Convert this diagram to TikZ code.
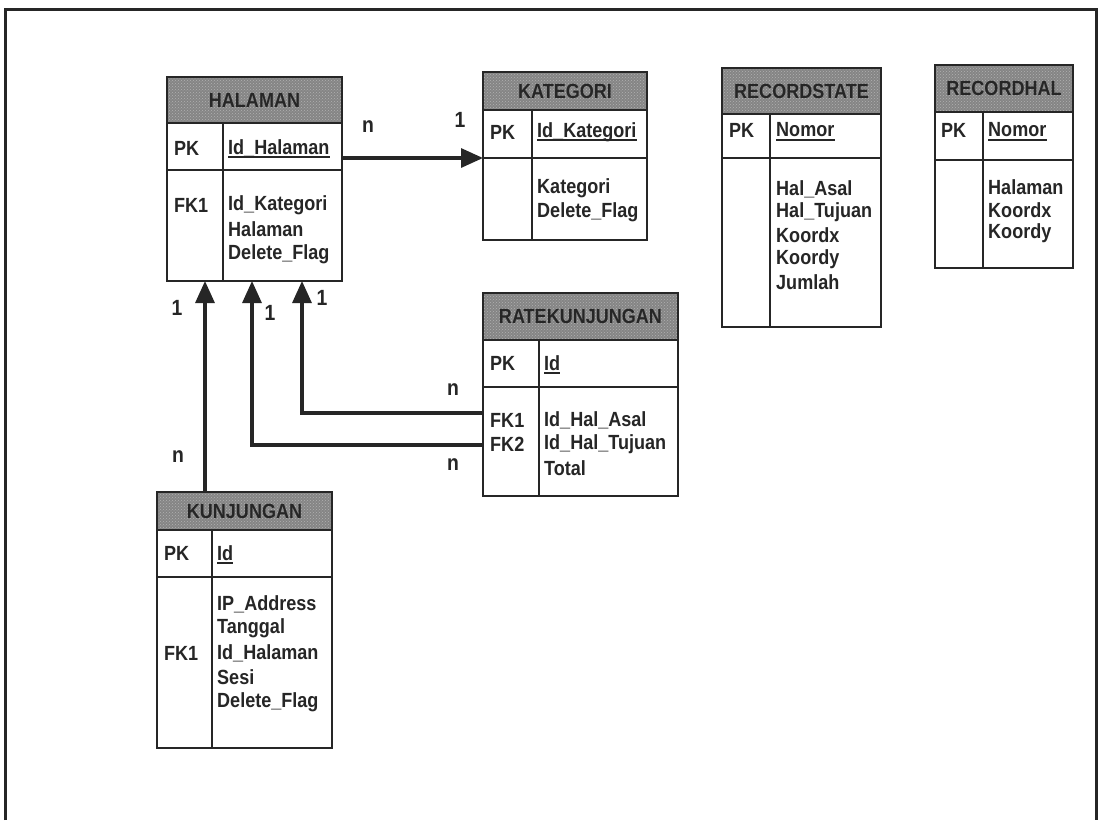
\documentclass[tikz,border=0pt]{standalone}
\usepackage{fontspec}
\setmainfont{Liberation Sans}[FakeStretch=0.88]
\usetikzlibrary{arrows.meta,patterns}

\tikzset{
  frame/.style={line width=3pt, draw=black!85},
  tblborder/.style={line width=2.6pt, draw=black!85},
  tblrule/.style={line width=2.2pt, draw=black!85},
  hdr/.style={fill=black!48},
  hdrdots/.style={pattern=crosshatch dots, pattern color=white!70!black},
  ttl/.style={font=\bfseries\fontsize{20.5}{20.5}\selectfont, text=black!85, inner sep=0pt},
  fld/.style={font=\bfseries\fontsize{20.5}{24}\selectfont, text=black!85, inner sep=0pt, anchor=west},
  card/.style={font=\bfseries\fontsize{22}{22}\selectfont, text=black!85, inner sep=0pt},
  rel/.style={line width=3.2pt, draw=black!85, -{Triangle[length=22pt,width=19pt]}},
  tblbox/.style={draw=none, inner sep=0pt, outer sep=0pt, anchor=north west},
  pkline/.style={line width=1.8pt, draw=black!85},
}

% table frame: name, left, top, right, header bottom, key row bottom, bottom, column rule, title
\newcommand{\ertable}[9]{%
  \node[tblbox, minimum width={#4-#2}, minimum height={#7-#3}] (#1) at (#2,#3) {};
  \fill[hdr] (#2,#3) rectangle (#4,#5);
  \fill[hdrdots] (#2,#3) rectangle (#4,#5);
  \node[ttl] (#1-title) at ({(#2+#4)/2},{(#3+#5)/2}) {#9};
  \draw[tblrule] (#2,#5) -- (#4,#5) (#2,#6) -- (#4,#6) (#8,#5) -- (#8,#7);
  \draw[tblborder] (#1.north west) rectangle (#1.south east);
}
% primary key row: name, x of key column, x of field column, y, field
\newcommand{\pkrow}[5]{%
  \node[fld] (#1-pk) at (#2,#4) {PK};
  \node[fld] (#1-key) at (#3,#4) {#5};
  \draw[pkline] ([yshift=-3pt]#1-key.base west) -- ([yshift=-3pt]#1-key.base east);
}

\begin{document}
\begin{tikzpicture}[x=1pt,y=-1pt]
\useasboundingbox (0,0) rectangle (1101,820);
\fill[white] (0,0) rectangle (1101,820);

% outer frame, open at the foot of the page
\draw[frame] (5,820) -- (5,9) -- (1096,9) -- (1096,820);

% HALAMAN
\ertable{halaman}{167}{77}{342}{123}{170}{281}{223}{HALAMAN}
\pkrow{halaman}{174}{228}{148}{Id\_Halaman}
\node[fld] (halaman-fk1) at (174,205) {FK1};
\foreach \t [count=\i from 0] in {Id\_Kategori, Halaman, Delete\_Flag}
  \node[fld] (halaman-f\i) at (228,205+24.5*\i) {\t};

% KATEGORI
\ertable{kategori}{483}{72}{647}{110}{158}{240}{532}{KATEGORI}
\pkrow{kategori}{490}{537}{132}{Id\_Kategori}
\foreach \t [count=\i from 0] in {Kategori, Delete\_Flag}
  \node[fld] (kategori-f\i) at (537,188+24.5*\i) {\t};

% RECORDSTATE
\ertable{recordstate}{722}{68}{881}{114}{158}{327}{770}{RECORDSTATE}
\pkrow{recordstate}{729}{776}{130}{Nomor}
\foreach \t [count=\i from 0] in {Hal\_Asal, Hal\_Tujuan, Koordx, Koordy, Jumlah}
  \node[fld] (recordstate-f\i) at (776,189+23.3*\i) {\t};

% RECORDHAL
\ertable{recordhal}{935}{65}{1073}{112}{160}{268}{983}{RECORDHAL}
\pkrow{recordhal}{941}{988}{130}{Nomor}
\foreach \t [count=\i from 0] in {Halaman, Koordx, Koordy}
  \node[fld] (recordhal-f\i) at (988,187+23*\i) {\t};

% RATEKUNJUNGAN
\ertable{ratekunjungan}{483}{293}{678}{340}{387}{496}{539}{RATEKUNJUNGAN}
\pkrow{ratekunjungan}{490}{544}{363}{Id}
\node[fld] (ratekunjungan-fk1) at (490,420) {FK1};
\node[fld] (ratekunjungan-fk2) at (490,444) {FK2};
\foreach \t [count=\i from 0] in {Id\_Hal\_Asal, Id\_Hal\_Tujuan, Total}
  \node[fld] (ratekunjungan-f\i) at (544,420+24*\i) {\t};

% KUNJUNGAN
\ertable{kunjungan}{157}{492}{332}{530}{577}{748}{212}{KUNJUNGAN}
\pkrow{kunjungan}{164}{217}{553}{Id}
\node[fld] (kunjungan-fk1) at (164,653) {FK1};
\foreach \t [count=\i from 0] in {IP\_Address, Tanggal, Id\_Halaman, Sesi, Delete\_Flag}
  \node[fld] (kunjungan-f\i) at (217,604+24.5*\i) {\t};

% relationships
\coordinate (r0) at (0,158);
\coordinate (r1) at (205,0);
\coordinate (r2) at (252,445);
\coordinate (r3) at (302,413);
\draw[rel] (halaman.east |- r0) -- (kategori.west |- r0);
\draw[rel] (kunjungan.north -| r1) -- (halaman.south -| r1);
\draw[rel] (ratekunjungan.west |- r2) -| (halaman.south -| r2);
\draw[rel] (ratekunjungan.west |- r3) -| (halaman.south -| r3);

% cardinalities
\node[card] (c-hk-n) at (368,127) {n};
\node[card] (c-hk-1) at (460,120) {1};
\node[card] (c-kh-1) at (177,308) {1};
\node[card] (c-kh-n) at (178,457) {n};
\node[card] (c-r2-1) at (270,313) {1};
\node[card] (c-r3-1) at (322,298) {1};
\node[card] (c-r3-n) at (453,390) {n};
\node[card] (c-r2-n) at (453,465) {n};
\end{tikzpicture}
\end{document}
